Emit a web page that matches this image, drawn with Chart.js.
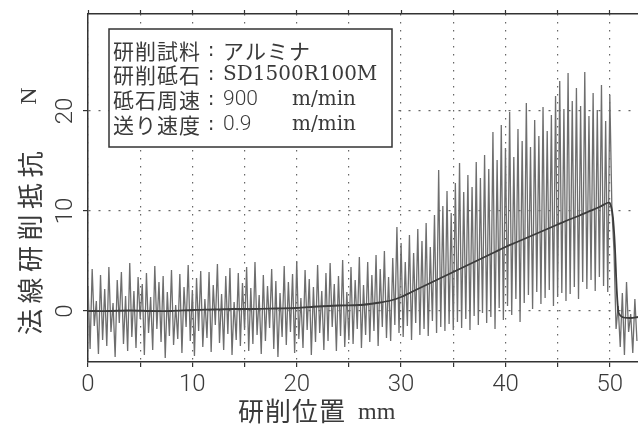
<!DOCTYPE html>
<html><head><meta charset="utf-8">
<script src="https://cdn.jsdelivr.net/npm/chart.js@4"></script>
<style>html,body{margin:0;padding:0;background:#fff;overflow:hidden}canvas{display:block}</style>
</head><body><canvas id="c" width="638" height="434"></canvas>
<script>
// ---- data ----
const SAMPLE_STEP_MM = 0.2;   // grinding position step of the recorded signal
const forceSignal = [
  2.5,-3.8,4.2,-1.5,1.0,-4.3,3.6,-2.9,2.2,-3.5,
  4.4,-2.1,0.8,-4.6,3.1,-1.2,3.9,-3.3,1.5,-4.0,
  4.8,-2.6,2.0,-3.7,3.4,-0.8,2.7,-4.4,3.8,-2.2,
  1.4,-3.9,4.5,-1.8,2.9,-3.1,3.5,-4.7,1.9,-2.5,
  4.1,-3.4,0.6,-2.8,3.7,-4.2,2.4,-1.6,4.6,-3.0,
  2.1,-4.5,3.3,-2.0,4.0,-3.6,1.2,-2.7,3.9,-4.1,
  2.6,-1.4,4.7,-3.2,1.7,-3.9,3.5,-2.3,4.3,-4.4,
  0.9,-2.9,3.8,-3.5,2.8,-1.9,4.4,-4.0,2.3,-3.3,
  4.9,-2.4,1.6,-4.3,3.6,-3.0,2.5,-1.7,4.2,-3.8,
  3.0,-4.6,1.8,-2.6,4.5,-3.4,2.9,-2.1,3.7,-4.2,
  5.0,-2.8,1.3,-3.7,4.1,-1.9,3.2,-4.4,2.4,-3.1,
  4.6,-2.2,2.0,-3.9,3.8,-3.0,4.8,-1.6,2.7,-4.0,
  3.5,-2.5,5.1,-3.6,1.9,-2.9,4.4,-3.3,3.1,-1.8,
  5.4,-3.7,2.6,-2.4,4.9,-3.1,3.6,-2.0,5.6,-3.5,
  4.2,-1.6,6.0,-2.7,3.4,-3.0,5.3,-1.4,8.4,-2.2,
  6.8,-2.6,4.9,-1.5,7.6,-2.9,5.8,-1.2,8.2,-2.4,
  7.0,-1.8,8.8,-2.5,6.4,-1.0,9.6,-2.2,14.1,-1.6,
  10.5,-2.0,12.0,-1.3,9.8,-1.9,12.8,-1.1,14.8,-1.7,
  11.9,-0.8,13.6,-1.9,12.4,-0.5,14.9,-1.4,13.3,-0.2,
  15.6,-1.2,14.2,-0.6,17.9,-1.8,15.1,0.3,18.6,-0.9,
  16.3,0.5,19.9,-0.4,15.4,1.2,18.2,-1.1,17.0,0.8,
  20.8,1.6,16.4,0.2,19.1,1.9,17.5,0.7,20.4,1.3,
  18.0,2.1,19.6,0.5,21.5,1.4,23.0,1.8,20.2,1.0,
  23.8,1.7,21.0,2.4,22.3,1.2,20.5,2.9,23.9,2.2,
  19.5,3.1,21.8,2.0,20.1,3.4,22.6,2.5,19.0,1.9,
  21.6,10.2,6.0,-1.8,0.5,-3.6,1.8,-4.4,2.9,-2.1,
  -0.3,-4.2,1.2,-3.0
];
const meanPositions = [0,2,4,6,8,10,12,14,16,18,20,22,24,26,27,28,29,30,31,32,33,34,35,36,37,38,39,40,41,42,43,44,45,46,47,48,49,50,50.4,50.8,51.2,52,52.7];
const meanForce     = [0,0,0.05,0,0,0.1,0.15,0.2,0.2,0.25,0.3,0.45,0.55,0.6,0.7,0.85,1.05,1.4,1.9,2.4,2.9,3.4,3.9,4.4,4.9,5.4,5.9,6.4,6.85,7.3,7.75,8.2,8.65,9.1,9.5,9.95,10.4,10.8,8.0,0.0,-0.6,-0.7,-0.6];
const xTickValues = [0,5,10,15,20,25,30,35,40,45,50];
const xLabelValues = [0,10,20,30,40,50];
const yTickValues = [0,10,20];
const infoLabels = ["研削試料","研削砥石","砥石周速","送り速度"];
const infoValues = ["アルミナ","SD1500R100M","900","0.9"];
const infoUnits  = ["","","m/min","m/min"];

const X_MIN = 0, X_MAX = 52.7, Y_MIN = -5.1, Y_MAX = 29.7;
const INK = '#3a3a3a';
const NUM_FONT = '300 24px Roboto, "Liberation Sans", sans-serif';
const CJK = '"Noto Sans CJK JP", "Noto Sans", sans-serif';

const signalPoints = forceSignal.map((v, i) => ({x: +(i * SAMPLE_STEP_MM).toFixed(2), y: v}));
const meanPoints = meanPositions.map((p, i) => ({x: p, y: meanForce[i]}));

function drawChars(ctx, text, x, y, step) {
  for (let i = 0; i < text.length; i++) ctx.fillText(text[i], x + i * step, y);
}

const textPlugin = {
  id: 'texts',
  afterDraw(chart) {
    const ctx = chart.ctx, ys = chart.scales.y;
    ctx.save();
    ctx.fillStyle = INK;
    // rotated y tick labels
    ctx.font = NUM_FONT; ctx.textAlign = 'center'; ctx.textBaseline = 'middle';
    yTickValues.forEach(v => {
      ctx.save(); ctx.translate(66, ys.getPixelForValue(v)); ctx.rotate(-Math.PI / 2);
      ctx.fillText(String(v), 0, 0); ctx.restore();
    });
    // y axis title (rotated)
    ctx.save(); ctx.translate(30, 336); ctx.rotate(-Math.PI / 2);
    ctx.font = '26px ' + CJK; ctx.textAlign = 'center'; ctx.textBaseline = 'middle';
    drawChars(ctx, "法線研削抵抗", 14, 0, 31.5);
    ctx.font = '24px "Liberation Serif", serif';
    ctx.fillText("N", 240, 0);
    ctx.restore();
    // x axis title
    ctx.font = '26px ' + CJK; ctx.textAlign = 'left'; ctx.textBaseline = 'middle';
    drawChars(ctx, "研削位置", 238, 411, 27);
    ctx.font = '24px "Liberation Serif", serif';
    ctx.fillText("mm", 358, 413);
    // info box
    const bx = 109, by = 29, bw = 283, bh = 118;
    ctx.fillStyle = '#fff'; ctx.fillRect(bx, by, bw, bh);
    ctx.strokeStyle = '#333'; ctx.lineWidth = 1.5; ctx.strokeRect(bx, by, bw, bh);
    ctx.fillStyle = INK;
    const rowY = [51, 75, 100, 125];
    infoLabels.forEach((lab, i) => {
      ctx.font = '21px ' + CJK; ctx.textAlign = 'left'; ctx.textBaseline = 'middle';
      drawChars(ctx, lab, 113, rowY[i], 22);
      ctx.font = '20px "DejaVu Sans", sans-serif'; ctx.textAlign = 'center';
      ctx.fillText(":", 211, rowY[i]);
      ctx.textAlign = 'left';
      const v = infoValues[i];
      if (/^[0-9.]+$/.test(v)) ctx.font = '300 21px Roboto, sans-serif';
      else if (/^[A-Z0-9]+$/.test(v)) ctx.font = '20px "DejaVu Serif", serif';
      else ctx.font = '21px ' + CJK;
      if (/^[\u30A0-\u30FF]+$/.test(v)) drawChars(ctx, v, 223, rowY[i], 22);
      else ctx.fillText(v, 223, rowY[i]);
      if (infoUnits[i]) { ctx.font = '20px "DejaVu Serif", serif'; ctx.fillText(infoUnits[i], 292, rowY[i]); }
    });
    ctx.restore();
  }
};

const tickSetter = vals => s => { s.ticks = vals.map(v => ({value: v})); };

new Chart(document.getElementById('c'), {
  type: 'line',
  data: {
    datasets: [
      {label: 'signal', data: signalPoints, borderColor: '#6e6e6e', borderWidth: 1.3, pointRadius: 0, tension: 0, fill: false, order: 2},
      {label: 'mean', data: meanPoints, borderColor: '#3c3c3c', borderWidth: 1.8, pointRadius: 0, tension: 0.3, fill: false, order: 1}
    ]
  },
  options: {
    responsive: false, animation: false, devicePixelRatio: 1,
    layout: {padding: 0},
    plugins: {legend: {display: false}, tooltip: {enabled: false}, title: {display: false}},
    scales: {
      x: {
        type: 'linear', position: 'bottom', min: X_MIN, max: X_MAX,
        afterBuildTicks: tickSetter(xTickValues),
        afterFit: s => { s.height = 72; },
        ticks: {autoSkip: false, maxRotation: 0, padding: 4, color: INK,
          font: {family: 'Roboto', size: 24, weight: 300},
          callback: v => xLabelValues.includes(v) ? String(v) : ''},
        grid: {color: '#666', lineWidth: 1.2, tickLength: 5, tickColor: '#333', tickWidth: 1.2},
        border: {display: true, color: '#333', width: 1.5, dash: [1.5, 6.5]}
      },
      x2: {
        type: 'linear', position: 'top', min: X_MIN, max: X_MAX,
        afterBuildTicks: tickSetter(xTickValues),
        afterFit: s => { s.height = 14; },
        ticks: {display: false},
        grid: {drawOnChartArea: false, tickLength: 4, tickColor: '#333', tickWidth: 1.2},
        border: {display: true, color: '#333', width: 1.5}
      },
      y: {
        type: 'linear', position: 'left', min: Y_MIN, max: Y_MAX,
        afterBuildTicks: tickSetter(yTickValues),
        afterFit: s => { s.width = 88; },
        ticks: {display: false},
        grid: {color: '#666', lineWidth: 1.2, tickLength: 5, tickColor: '#333', tickWidth: 1.2},
        border: {display: true, color: '#333', width: 1.5, dash: [2, 8]}
      }
    }
  },
  plugins: [textPlugin]
});
</script>
</body></html>
